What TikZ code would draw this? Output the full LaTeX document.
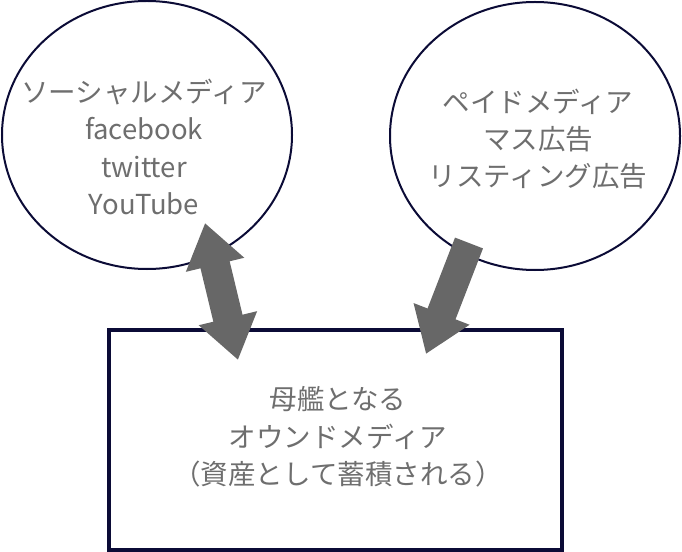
\documentclass[tikz,border=0pt]{standalone}
\usepackage{fontspec}
\setmainfont{Noto Sans CJK JP}
\usetikzlibrary{arrows.meta}
\definecolor{navy}{HTML}{0B0B36}
\definecolor{txt}{HTML}{6E6E6E}
\definecolor{arr}{HTML}{676767}
\tikzset{
  media/.style={draw=navy, line width=2bp, ellipse, minimum width=290bp, minimum height=268bp, inner sep=0pt},
  owned/.style={draw=navy, line width=4bp, rectangle, minimum width=453bp, minimum height=220bp, inner sep=0pt},
  label/.style={text=txt, align=center, font=\fontsize{27.6}{37.5}\selectfont},
  bigarrow/.style={draw=arr, line width=30bp, arrows={-{Triangle[width=57bp,length=43bp]}}},
  bigdarrow/.style={draw=arr, line width=30bp, arrows={{Triangle[width=57bp,length=43bp]}-{Triangle[width=57bp,length=43bp]}}}
}
\usetikzlibrary{shapes.geometric}
\begin{document}
\begin{tikzpicture}[x=1bp,y=-1bp]
\useasboundingbox (0,0) rectangle (682,552);
\node[media] (social) at (147,135) {};
\node[media] (paid) at (535,136) {};
\node[owned] (own) at (335.5,440) {};
\node[label] (stext) at (144,147) {ソーシャルメディア\\facebook\\twitter\\YouTube};
\node[label] (ptext) at (538,139) {ペイドメディア\\マス広告\\リスティング広告};
\node[label] (otext) at (338,437) {母艦となる\\オウンドメディア\\（資産として蓄積される）};
\coordinate (a1) at (205,223);
\coordinate (a2) at (238,360);
\coordinate (b1) at (469,243);
\coordinate (b2) at (426,354);
\draw[bigdarrow] (a1) -- (a2);
\draw[bigarrow] (b1) -- (b2);
\end{tikzpicture}
\end{document}
